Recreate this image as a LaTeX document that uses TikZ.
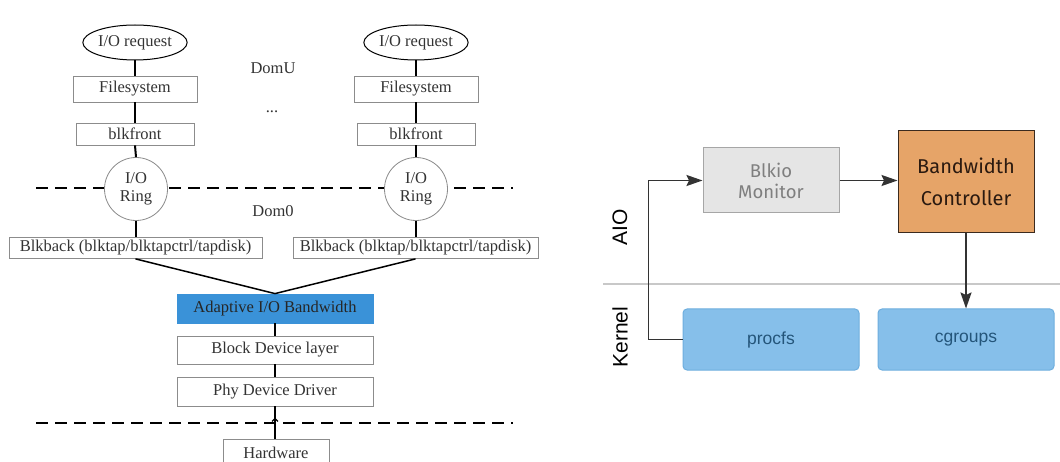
\documentclass[tikz,border=0pt]{standalone}
\usepackage{fontspec}
\setmainfont{Liberation Serif}
\newfontfamily\fira{Fira Sans}
\newfontfamily\arial{Liberation Sans}
\usetikzlibrary{arrows.meta,shapes.geometric}
\definecolor{boxgray}{HTML}{8C8C8C}
\definecolor{txtdark}{HTML}{333333}
\definecolor{adblue}{HTML}{3A92D8}
\definecolor{monfill}{HTML}{E5E5E5}
\definecolor{mondraw}{HTML}{A6A6A6}
\definecolor{montext}{HTML}{7F7F7F}
\definecolor{bcfill}{HTML}{E6A468}
\definecolor{bcdraw}{HTML}{3B2A1E}
\definecolor{bctext}{HTML}{2B1A10}
\definecolor{kfill}{HTML}{86BFEA}
\definecolor{kdraw}{HTML}{6EAEDE}
\definecolor{ktext}{HTML}{24557A}
\definecolor{sepgray}{HTML}{C8C8C8}
\definecolor{arrgray}{HTML}{333333}
\begin{document}
\begin{tikzpicture}[x=1pt,y=-1pt,
  lfont/.style={font=\fontsize{16.5}{18}\selectfont, text=txtdark},
  lbox/.style={lfont, draw=boxgray, line width=0.8pt, fill=white, inner sep=0pt},
  ell/.style={lfont, ellipse, draw=black, line width=1pt, fill=white, inner sep=0pt, minimum width=88pt, minimum height=35pt},
  ring/.style={lfont, circle, draw=boxgray, line width=0.8pt, fill=white, inner sep=0pt, minimum size=63pt, align=center},
  conn/.style={draw=black, line width=2pt},
  slant/.style={draw=black, line width=1.5pt},
  dline/.style={draw=black, line width=2pt, dash pattern=on 12pt off 7pt},
  mon/.style={draw=mondraw, fill=monfill, line width=1pt, text=montext, align=center, inner sep=0pt,
    font=\fira\fontsize{18.5}{21}\selectfont, minimum width=136pt, minimum height=65pt},
  bcbox/.style={draw=bcdraw, fill=bcfill, line width=1pt, text=bctext, align=center, inner sep=0pt,
    font=\fira\fontsize{20}{32}\selectfont, minimum width=136pt, minimum height=102pt},
  kbox/.style={draw=kdraw, fill=kfill, line width=1pt, rounded corners=4pt, text=ktext, inner sep=0pt,
    font=\arial\fontsize{17.5}{20}\selectfont, minimum width=176pt, minimum height=61pt},
  side/.style={rotate=90, font=\arial\fontsize{21}{24}\selectfont, text=black, inner sep=0pt},
  arr/.style={draw=arrgray, line width=1.8pt, -{Stealth[length=16pt,width=11pt,inset=2.5pt]}}
]
\useasboundingbox (0,0) rectangle (1060,462);
\fill[white] (0,0) rectangle (1060,462);

% ---------- left diagram ----------
\draw[dline] (36,188) -- (513,188);
\draw[dline] (36,423) -- (513,423);

\node[ell] (req1) at (135,42.5) {I/O request};
\node[ell] (req2) at (416,42.5) {I/O request};
\node[lbox, minimum width=124pt, minimum height=26pt] (fs1) at (135,89) {Filesystem};
\node[lbox, minimum width=124pt, minimum height=26pt] (fs2) at (416,89) {Filesystem};
\node[lbox, minimum width=118pt, minimum height=22pt] (bf1) at (135,134) {blkfront};
\node[lbox, minimum width=118pt, minimum height=22pt] (bf2) at (416,134) {blkfront};
\node[ring] (ring1) at (136,189) {I/O\\Ring};
\node[ring] (ring2) at (416,189) {I/O\\Ring};
\node[lbox, minimum width=253pt, minimum height=21pt] (bb1) at (135.5,248) {Blkback (blktap/blktapctrl/tapdisk)};
\node[lbox, minimum width=245pt, minimum height=21pt] (bb2) at (415.5,248) {Blkback (blktap/blktapctrl/tapdisk)};

\node[lfont] (domu) at (273,68) {DomU};
\node[lfont] (dots) at (272,112) {...};
\node[lfont] (dom0) at (273,211) {Dom0};

\node[lbox, fill=adblue, draw=adblue, text=black!85, minimum width=196pt, minimum height=29pt] (ad) at (275,308.5) {Adaptive I/O Bandwidth};
\node[lbox, minimum width=196pt, minimum height=28pt] (bdl) at (275,350) {Block Device layer};
\node[lbox, minimum width=196pt, minimum height=29pt] (phy) at (275,391.5) {Phy Device Driver};
\node[lbox, minimum width=106pt, minimum height=32pt, text depth=0pt] (hw) at (276,455) {\raisebox{5pt}{Hardware}};

\draw[conn] (req1.south) -- (fs1.north);
\draw[conn] (fs1.south) -- (bf1.north);
\draw[conn] (bf1.south) -- (ring1.north);
\draw[conn] (ring1.south) -- (bb1.north -| ring1.south);
\draw[conn] (req2.south) -- (fs2.north);
\draw[conn] (fs2.south) -- (bf2.north);
\draw[conn] (bf2.south) -- (ring2.north);
\draw[conn] (ring2.south) -- (bb2.north -| ring2.south);
\draw[slant] (bb1.south) -- (ad.north);
\draw[slant] (bb2.south) -- (ad.north);
\draw[conn] (ad.south) -- (bdl.north);
\draw[conn] (bdl.south) -- (phy.north);
\draw[conn] (hw.north -| phy.south) -- (phy.south);
\draw[line width=1.2pt, -{Straight Barb[length=3pt,width=6pt]}] (hw.north -| phy.south) -- ++(0,-21);

% ---------- right diagram ----------
\draw[sepgray, line width=1.5pt] (603,284) -- (1060,284);
\node[side] (aio) at (620,227) {AIO};
\node[side] (kern) at (620,337) {Kernel};

\node[mon] (mon) at (771,180.5) {Blkio\\Monitor};
\node[bcbox] (bc) at (966,182) {Bandwidth\\Controller};
\node[kbox] (procfs) at (771,339.5) {procfs};
\node[kbox] (cgroups) at (966,339.5) {cgroups};

\draw[arr] (procfs.west) -- ++(-34,0) |- (mon.west);
\draw[arr] (mon.east) -- (mon.east -| bc.west);
\draw[arr] (bc.south) -- (cgroups.north);
\end{tikzpicture}
\end{document}
